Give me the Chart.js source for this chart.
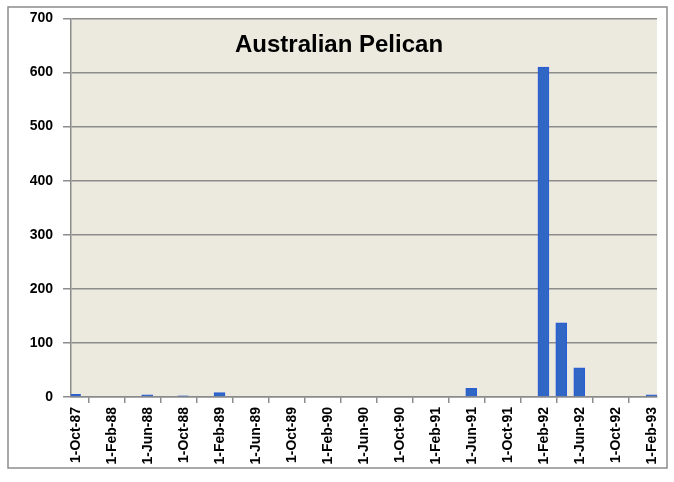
<!DOCTYPE html>
<html>
<head>
<meta charset="utf-8">
<script src="https://cdn.jsdelivr.net/npm/chart.js@4/dist/chart.umd.min.js"></script>
<style>
  html, body { margin: 0; padding: 0; background: #ffffff; }
  #wrap { width: 674px; height: 482px; position: relative; }
</style>
</head>
<body>
<div id="wrap"><canvas id="c" width="674" height="482"></canvas></div>
<script>
// ---- data ----
const chartTitle = 'Australian Pelican';
const tickLabels = ['1-Oct-87','1-Feb-88','1-Jun-88','1-Oct-88','1-Feb-89','1-Jun-89','1-Oct-89','1-Feb-90','1-Jun-90','1-Oct-90','1-Feb-91','1-Jun-91','1-Oct-91','1-Feb-92','1-Jun-92','1-Oct-92','1-Feb-93'];
const obsDates = ['1987-10-15','1988-06-15','1988-10-15','1989-02-15','1991-06-15','1992-02-15','1992-04-15','1992-06-15','1993-02-15'];
const counts   = [5, 4, 2, 8, 16, 610, 137, 54, 4];
const yTicks   = [0, 100, 200, 300, 400, 500, 600, 700];

// months since 1-Oct-1987 (fractional)
function monthIndex(s) {
  const [y, m, d] = s.split('-').map(Number);
  const dim = new Date(y, m, 0).getDate();
  return (y - 1987) * 12 + (m - 10) + (d - 1) / dim;
}
const points = obsDates.map((d, i) => ({ x: monthIndex(d), y: counts[i] }));

const FONT = '"Liberation Sans", Arial, sans-serif';

const bgPlugin = {
  id: 'bg',
  beforeDraw(chart) {
    const { ctx, chartArea: a } = chart;
    ctx.save();
    ctx.fillStyle = '#ECE9DF';
    ctx.fillRect(a.left, a.top, a.right - a.left, a.bottom - a.top);
    ctx.restore();
  },
  afterDraw(chart) {
    const { ctx } = chart;
    ctx.save();
    ctx.strokeStyle = '#8c8c8c';
    ctx.lineWidth = 1.5;
    ctx.strokeRect(8, 7, 659, 461);
    ctx.fillStyle = '#000';
    ctx.font = 'bold 24px ' + FONT;
    ctx.textAlign = 'center';
    ctx.textBaseline = 'alphabetic';
    ctx.fillText(chartTitle, 339, 52);
    ctx.restore();
  }
};

new Chart(document.getElementById('c'), {
  type: 'bar',
  data: {
    datasets: [{
      data: points,
      backgroundColor: '#3067C4',
      borderColor: '#2A5FD2',
      borderWidth: 1.5,
      barThickness: 11,
      clip: 0
    }]
  },
  options: {
    responsive: false,
    animation: false,
    layout: { padding: { left: 0, top: 18, right: 17, bottom: 0 } },
    plugins: { legend: { display: false }, tooltip: { enabled: false } },
    scales: {
      x: {
        type: 'linear',
        min: 0,
        max: 65.1,
        offset: false,
        afterBuildTicks(scale) { scale.ticks = tickLabels.map((l, i) => ({ value: i * 4 })); },
        afterFit(scale) { scale.height = 85; },
        ticks: {
          autoSkip: false,
          minRotation: 90,
          maxRotation: 90,
          padding: 4,
          labelOffset: 5,
          color: '#000',
          font: { family: FONT, size: 14, weight: 'bold' },
          callback: (v) => tickLabels[Math.round(v / 4)]
        },
        grid: { drawOnChartArea: false, drawTicks: true, tickLength: 6, color: '#8c8c8c', lineWidth: 1.5 },
        border: { color: '#8c8c8c', width: 1.5 }
      },
      y: {
        min: 0,
        max: 700,
        afterBuildTicks(scale) { scale.ticks = yTicks.map(v => ({ value: v })); },
        afterFit(scale) { scale.width = 71; },
        ticks: {
          padding: 10,
          color: '#000',
          font: { family: FONT, size: 14, weight: 'bold' }
        },
        grid: { color: '#8c8c8c', lineWidth: 1.5, tickLength: 8 },
        border: { color: '#8c8c8c', width: 1.5 }
      }
    }
  },
  plugins: [bgPlugin]
});
</script>
</body>
</html>
